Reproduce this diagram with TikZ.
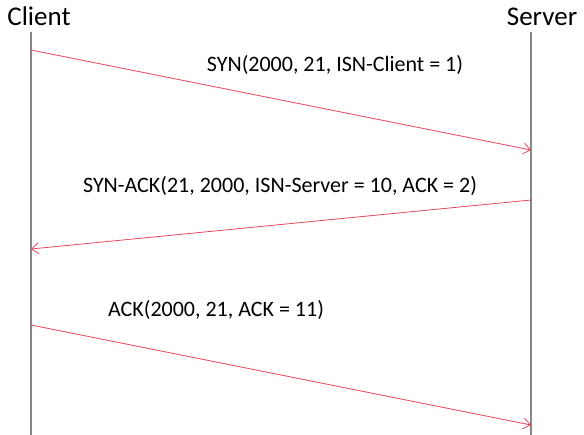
\documentclass[tikz,border=0pt]{standalone}
\usepackage{fontspec}
\setmainfont{Carlito}
\usetikzlibrary{arrows.meta}
\definecolor{msgred}{RGB}{228,72,96}
\definecolor{lifegrey}{RGB}{135,135,135}
\begin{document}
\begin{tikzpicture}[x=1pt,y=-1pt]
\useasboundingbox (0,0) rectangle (584,435);
\node[anchor=base,font=\fontsize{27}{30}\selectfont,inner sep=0pt] (client) at (39,26) {Client};
\node[anchor=base,font=\fontsize{27}{30}\selectfont,inner sep=0pt] (server) at (542,26) {Server};

\coordinate (ctop) at (31,32);
\coordinate (cbot) at (31,435);
\coordinate (stop) at (531,32);
\coordinate (sbot) at (531,435);
\coordinate (c1) at (31,50);
\coordinate (s1) at (531,150);
\coordinate (s2) at (531,200);
\coordinate (c2) at (31,249);
\coordinate (c3) at (31,325);
\coordinate (s3) at (531,425);

\path[draw,lifegrey,line width=1.1pt] (ctop) -- (cbot);
\path[draw,lifegrey,line width=1.1pt] (stop) -- (sbot);

\path[draw,msgred,line width=0.8pt,-{Straight Barb[length=7pt,width=11pt]}] (c1) -- (s1);
\path[draw,msgred,line width=0.8pt,-{Straight Barb[length=7pt,width=11pt]}] (s2) -- (c2);
\path[draw,msgred,line width=0.8pt,-{Straight Barb[length=7pt,width=11pt]}] (c3) -- (s3);

\node[anchor=base,font=\fontsize{22}{26}\selectfont,inner sep=0pt] (syn) at (335,72) {SYN(2000, 21, ISN-Client = 1)};
\node[anchor=base,font=\fontsize{22}{26}\selectfont,inner sep=0pt] (synack) at (280,193) {SYN-ACK(21, 2000, ISN-Server = 10, ACK = 2)};
\node[anchor=base,font=\fontsize{22}{26}\selectfont,inner sep=0pt] (ack) at (216,317) {ACK(2000, 21, ACK = 11)};
\end{tikzpicture}
\end{document}
